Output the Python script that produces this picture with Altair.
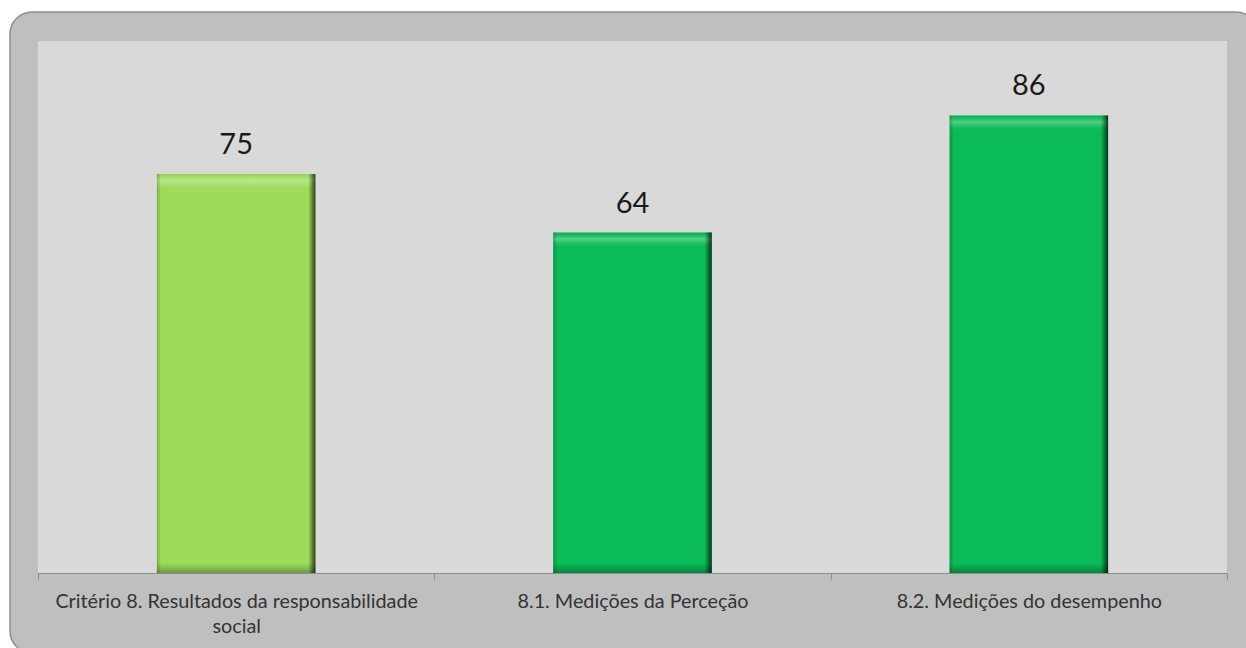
import altair as alt
import pandas as pd

# Scores per criterion
categories = [
    "Critério 8. Resultados da responsabilidade social",
    "8.1. Medições da Perceção",
    "8.2. Medições do desempenho",
]
values = [75, 64, 86]
bar_colors = ["#9ddc5a", "#0abb57", "#0abb57"]

df = pd.DataFrame({"categoria": categories, "valor": values, "cor": bar_colors})
# depth of the top and bottom bevels, in score units
df["topo_base"] = df["valor"] - 2.7

W, H = 1189, 532
FONT = "Lato"
BAR_W = {"band": 0.4}

x_enc = alt.X(
    "categoria:N",
    sort=categories,
    scale=alt.Scale(paddingInner=0, paddingOuter=0),
    axis=alt.Axis(
        title=None,
        labelAngle=0,
        tickBand="extent",
        tickSize=6,
        tickColor="#8c8c8c",
        domainColor="#8c8c8c",
        labelFont=FONT,
        labelFontSize=19.8,
        labelColor="#333333",
        labelPadding=12,
        labelBaseline="top",
        labelLineHeight=25,
        labelLimit=500,
        zindex=1,
        labelExpr=(
            "length(datum.label) > 40 ? "
            "[slice(datum.label, 0, lastindexof(datum.label, ' ')), "
            "slice(datum.label, lastindexof(datum.label, ' ') + 1)] : datum.label"
        ),
    ),
)
x_plain = alt.X("categoria:N", sort=categories)
y_enc = alt.Y("valor:Q", scale=alt.Scale(domain=[0, 100]), axis=None)

# rounded outer frame behind everything
frame = alt.Chart(pd.DataFrame({"k": [0]})).mark_rect(
    fill="#bfbfbf", stroke="#8f8f8f", strokeWidth=1.5, cornerRadius=22
).encode(
    x=alt.value(-28), x2=alt.value(1220), y=alt.value(-29), y2=alt.value(612)
)

# plot area background
panel = alt.Chart(pd.DataFrame({"k": [0]})).mark_rect(fill="#d9d9d9").encode(
    x=alt.value(0), x2=alt.value(W), y=alt.value(0), y2=alt.value(H)
)

base = alt.Chart(df)

bars = base.mark_bar(width=BAR_W).encode(
    x=x_enc, y=y_enc, color=alt.Color("cor:N", scale=None)
)

top_bevel = base.mark_bar(
    width=BAR_W,
    fill={
        "gradient": "linear",
        "x1": 0, "x2": 0, "y1": 0, "y2": 1,
        "stops": [
            {"offset": 0, "color": "rgba(0,0,0,0.08)"},
            {"offset": 0.2, "color": "rgba(255,255,255,0.05)"},
            {"offset": 0.45, "color": "rgba(255,255,255,0.3)"},
            {"offset": 0.7, "color": "rgba(255,255,255,0.12)"},
            {"offset": 1, "color": "rgba(255,255,255,0)"},
        ],
    },
).encode(x=x_plain, y="valor:Q", y2="topo_base:Q")

bottom_bevel = base.mark_bar(
    width=BAR_W,
    fill={
        "gradient": "linear",
        "x1": 0, "x2": 0, "y1": 0, "y2": 1,
        "stops": [
            {"offset": 0, "color": "rgba(0,0,0,0)"},
            {"offset": 0.5, "color": "rgba(0,0,0,0.14)"},
            {"offset": 1, "color": "rgba(0,0,0,0.3)"},
        ],
    },
).encode(x=x_plain, y=alt.datum(0), y2=alt.datum(1.9))

# side shading for the bevelled look
side_shade = base.mark_bar(
    width=BAR_W,
    fill={
        "gradient": "linear",
        "x1": 0, "x2": 1, "y1": 0, "y2": 0,
        "stops": [
            {"offset": 0, "color": "rgba(0,0,0,0.22)"},
            {"offset": 0.025, "color": "rgba(0,0,0,0)"},
            {"offset": 0.955, "color": "rgba(0,0,0,0)"},
            {"offset": 0.98, "color": "rgba(0,0,0,0.4)"},
            {"offset": 1, "color": "rgba(0,0,0,0.72)"},
        ],
    },
).encode(x=x_plain, y="valor:Q")

labels = base.mark_text(
    font=FONT, fontSize=29, color="#1a1a1a", baseline="alphabetic", dy=-20
).encode(x=x_plain, y="valor:Q", text="valor:Q")

chart = alt.layer(
    frame, panel, bars, top_bevel, bottom_bevel, side_shade, labels
).properties(
    width=W,
    height=H,
    autosize=alt.AutoSizeParams(type="none"),
    padding={"left": 38, "top": 41, "right": 19, "bottom": 75},
    background="white",
).configure_view(stroke=None)

chart.save("out.html", embed_options={"renderer": "svg", "actions": False})
